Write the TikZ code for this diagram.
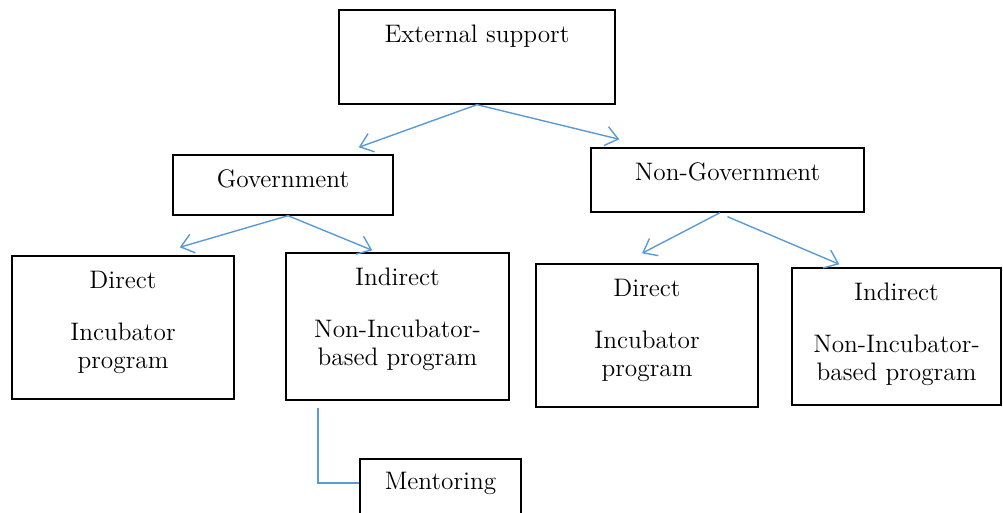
\documentclass[tikz,border=0pt]{standalone}
\usetikzlibrary{arrows.meta}
\definecolor{linkblue}{HTML}{5B9BD5}

\begin{document}
\begin{tikzpicture}[x=0.02cm,y=-0.02cm]
		\tikzstyle{box}=[draw, line width=0.8pt, inner sep=0pt];
		\tikzstyle{txt}=[anchor=north, align=center, inner sep=0pt, yshift=-0.31cm, font=\fontsize{14.4pt}{15.9pt}\selectfont];
		\tikzstyle{link}=[draw=linkblue, line width=0.8pt, -{Straight Barb[length=7pt,width=11pt]}];
		\clip (0,0) rectangle (1003,513);
		\path (477,57)    node[box, minimum width=5.52cm, minimum height=1.88cm, label={[txt]north:External support}] (ext) {};
		\path (283,185)   node[box, minimum width=4.4cm, minimum height=1.2cm, label={[txt]north:Government}] (gov) {};
		\path (727.5,180) node[box, minimum width=5.46cm, minimum height=1.28cm, label={[txt]north:Non-Government}] (ngov) {};
		\path (123,327.5) node[box, minimum width=4.44cm, minimum height=2.86cm, label={[txt]north:{Direct\\[13.6pt]Incubator\\program}}] (gdir) {};
		\path (397.5,326.5) node[box, minimum width=4.46cm, minimum height=2.94cm, label={[txt]north:{Indirect\\[13.6pt]Non-Incubator-\\based program}}] (gind) {};
		\path (647,335.5) node[box, minimum width=4.44cm, minimum height=2.86cm, label={[txt]north:{Direct\\[13.6pt]Incubator\\program}}] (ndir) {};
		\path (896.5,336.5) node[box, minimum width=4.18cm, minimum height=2.74cm, label={[txt]north:{Indirect\\[13.6pt]Non-Incubator-\\based program}}] (nind) {};
		\path (440.5,494) node[box, minimum width=3.22cm, minimum height=1.4cm, label={[txt, yshift=0.04cm]north:Mentoring}] (ment) {};
		\draw[link] (ext.south) -- ([xshift=-0.7cm,yshift=0.14cm]gov.north east);
		\draw[link] (ext.south) -- ([xshift=0.58cm,yshift=0.16cm]ngov.north west);
		\draw[link] ([xshift=0.1cm]gov.south) -- ([xshift=-1.1cm,yshift=0.16cm]gdir.north east);
		\draw[link] ([xshift=0.1cm]gov.south) -- ([xshift=1.74cm,yshift=0.04cm]gind.north west);
		\draw[link] ([xshift=-0.15cm]ngov.south) -- ([xshift=-0.1cm,yshift=0.2cm]ndir.north);
		\draw[link] ([yshift=-0.08cm]ngov.south) -- ([xshift=0.96cm,yshift=0.06cm]nind.north west);
		\draw[draw=linkblue, line width=0.8pt]
		([xshift=-1.59cm,yshift=-0.14cm]gind.south) |- ([yshift=0.22cm]ment.west);
\end{tikzpicture}
\end{document}
